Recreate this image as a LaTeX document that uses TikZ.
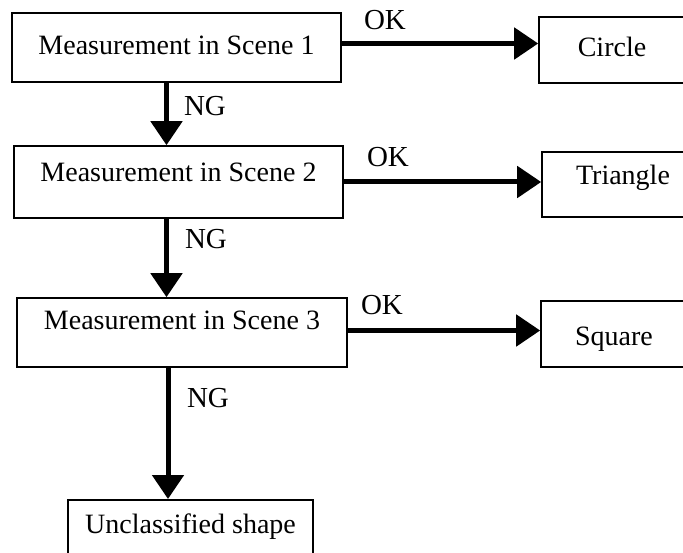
\documentclass[tikz,border=0pt]{standalone}
\usepackage{fontspec}
\setmainfont{Liberation Serif}
\usetikzlibrary{arrows.meta}
\tikzset{
  every picture/.style={line width=1.6pt},
  box/.style={draw, align=center, inner sep=3pt, text height=20pt, text depth=6pt, font=\fontsize{28}{30}\selectfont},
  arrow/.style={-{Triangle[length=24pt, width=31pt]}, line width=5pt},
  tag/.style={inner sep=0pt, text height=19pt, text depth=0pt, font=\fontsize{29}{30}\selectfont},
}

\begin{document}
\begin{tikzpicture}[x=1pt, y=-1pt]
  \useasboundingbox (0,0) rectangle (683,553);
  \clip (0,0) rectangle (683,553);
  % measurement chain
  \node[box, minimum width=329pt, minimum height=69pt] (m1) at (176.5,47.5) {Measurement in Scene 1};
  \node[box, minimum width=329pt, minimum height=72pt, text depth=20pt] (m2) at (178.5,182) {Measurement in Scene 2};
  \node[box, minimum width=330pt, minimum height=69pt, text depth=26pt] (m3) at (182,332.5) {Measurement in Scene 3};
  \node[box, anchor=north, minimum width=245pt, text height=31pt, text depth=30pt] (uncl) at (190.5,499) {Unclassified shape};
  % results
  \node[box, minimum width=146pt, minimum height=66pt] (circ) at (612,50) {Circle};
  \node[box, minimum width=162pt, minimum height=65pt, text depth=20pt] (tri) at (623,184.5) {Triangle};
  \node[box, minimum width=146pt, minimum height=66pt, text height=28pt] (sq) at (614,334) {Square};
  % OK branches
  \draw[arrow] ([yshift=4pt]m1.east) -- ([yshift=4pt]m1.east -| circ.west);
  \draw[arrow] (m2.east) -- (m2.east -| tri.west);
  \draw[arrow] ([yshift=2pt]m3.east) -- ([yshift=2pt]m3.east -| sq.west);
  % NG branches
  \draw[arrow] ([xshift=-10pt]m1.south) -- ([xshift=-10pt]m1.south |- m2.north);
  \draw[arrow] ([xshift=-12pt]m2.south) -- ([xshift=-12pt]m2.south |- m3.north);
  \draw[arrow] ([xshift=-14pt]m3.south) -- ([xshift=-14pt]m3.south |- uncl.north);
  % labels
  \node[tag] (ok1) at (385,20) {OK};
  \node[tag] (ok2) at (388,157) {OK};
  \node[tag] (ok3) at (382,305) {OK};
  \node[tag] (ng1) at (205,106) {NG};
  \node[tag] (ng2) at (206,239) {NG};
  \node[tag] (ng3) at (208,398) {NG};
\end{tikzpicture}
\end{document}
